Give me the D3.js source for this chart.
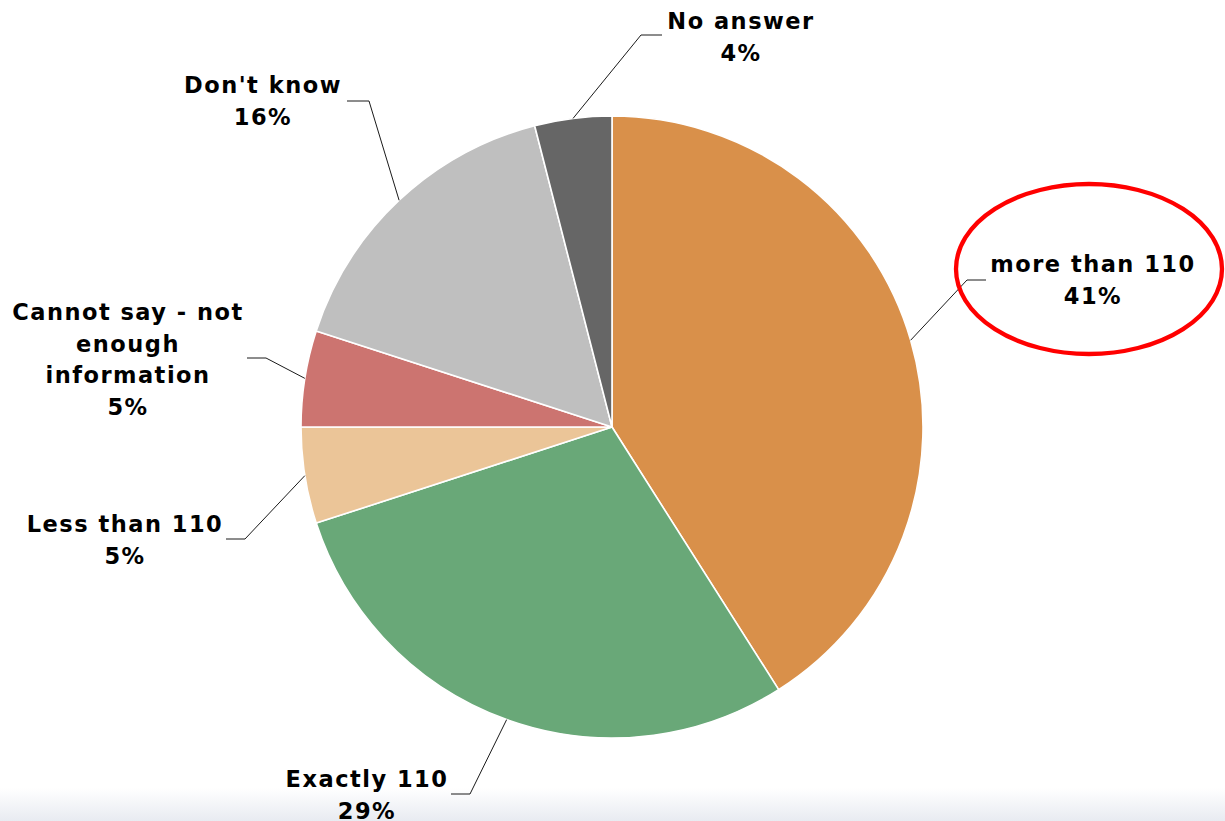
<!DOCTYPE html>
<html>
<head>
<meta charset="utf-8">
<script src="https://cdn.jsdelivr.net/npm/d3@7"></script>
<style>
  html, body { margin: 0; padding: 0; background: #ffffff; }
  svg { display: block; }
  .lbl { font-family: "DejaVu Sans", Verdana, sans-serif; font-weight: bold; font-size: 22.5px; letter-spacing: 1.5px; fill: #000; }
</style>
</head>
<body>
<svg id="chart" width="1225" height="821"></svg>
<script>
// Survey answers, in clockwise order from 12 o'clock
const categories = ["more than 110", "Exactly 110", "Less than 110",
  "Cannot say - not enough information", "Don't know", "No answer"];
const shares = [41, 29, 5, 5, 16, 4];
const sliceColors = ["#d9904a", "#69a878", "#ebc598", "#cc7470", "#bfbfbf", "#666666"];

// Label text lines and placement (centre x, first baseline y, elbow and end of leader)
const labelLines = [
  ["more than 110"],
  ["Exactly 110"],
  ["Less than 110"],
  ["Cannot say - not", "enough", "information"],
  ["Don't know"],
  ["No answer"]
];
const labelLayout = [
  { x: 1093, y: 272, elbow: [967, 280], end: [986, 280] },
  { x: 367,  y: 787, elbow: [470, 794], end: [451, 794] },
  { x: 125,  y: 532, elbow: [245, 539], end: [226, 539] },
  { x: 128,  y: 320, elbow: [266, 358], end: [247, 358] },
  { x: 263,  y: 93,  elbow: [369, 101], end: [347, 101] },
  { x: 741,  y: 29,  elbow: [641, 35],  end: [662, 35] }
];

const W = 1225, H = 821;
const cx = 612, cy = 427, R = 311;
const lineH = 31.5;

const svg = d3.select("#chart");

// soft bottom band
const defs = svg.append("defs");
const grad = defs.append("linearGradient").attr("id", "band")
  .attr("x1", 0).attr("y1", 0).attr("x2", 0).attr("y2", 1);
grad.append("stop").attr("offset", "0%").attr("stop-color", "#ffffff");
grad.append("stop").attr("offset", "100%").attr("stop-color", "#e8ebf1");
svg.append("rect").attr("x", 0).attr("y", 788).attr("width", W).attr("height", H - 788)
  .attr("fill", "url(#band)");

const rows = categories.map((c, i) => ({ name: c, value: shares[i], i }));

const pie = d3.pie().value(d => d.value).sort(null);
const arcs = pie(rows);
const arc = d3.arc().innerRadius(0).outerRadius(R);
const edge = d3.arc().innerRadius(R).outerRadius(R);
const color = d3.scaleOrdinal().domain(categories).range(sliceColors);

const g = svg.append("g").attr("transform", `translate(${cx},${cy})`);
g.selectAll("path.slice").data(arcs).join("path")
  .attr("class", "slice")
  .attr("d", arc)
  .attr("fill", d => color(d.data.name))
  .attr("stroke", "#ffffff")
  .attr("stroke-width", 1.6)
  .attr("stroke-linejoin", "round");

// leader lines from each slice's mid-edge
svg.selectAll("polyline.leader").data(arcs).join("polyline")
  .attr("class", "leader")
  .attr("fill", "none")
  .attr("stroke", "#1a1a1a")
  .attr("stroke-width", 1)
  .attr("points", d => {
    const [px, py] = edge.centroid(d);
    const L = labelLayout[d.data.i];
    return [[px + cx, py + cy], L.elbow, L.end].map(p => p.join(",")).join(" ");
  });

// labels: name lines followed by the percentage
const fmt = d3.format(".0f");
arcs.forEach(d => {
  const L = labelLayout[d.data.i];
  const lines = labelLines[d.data.i].concat([fmt(d.data.value) + "%"]);
  const t = svg.append("text").attr("class", "lbl").attr("text-anchor", "middle");
  lines.forEach((s, k) => {
    t.append("tspan").attr("x", L.x).attr("y", L.y + k * lineH).text(s);
  });
});

// highlight ring around the leading answer
svg.append("ellipse")
  .attr("cx", 1089).attr("cy", 269).attr("rx", 133).attr("ry", 85)
  .attr("fill", "none").attr("stroke", "#ff0000").attr("stroke-width", 4.3);
</script>
</body>
</html>
